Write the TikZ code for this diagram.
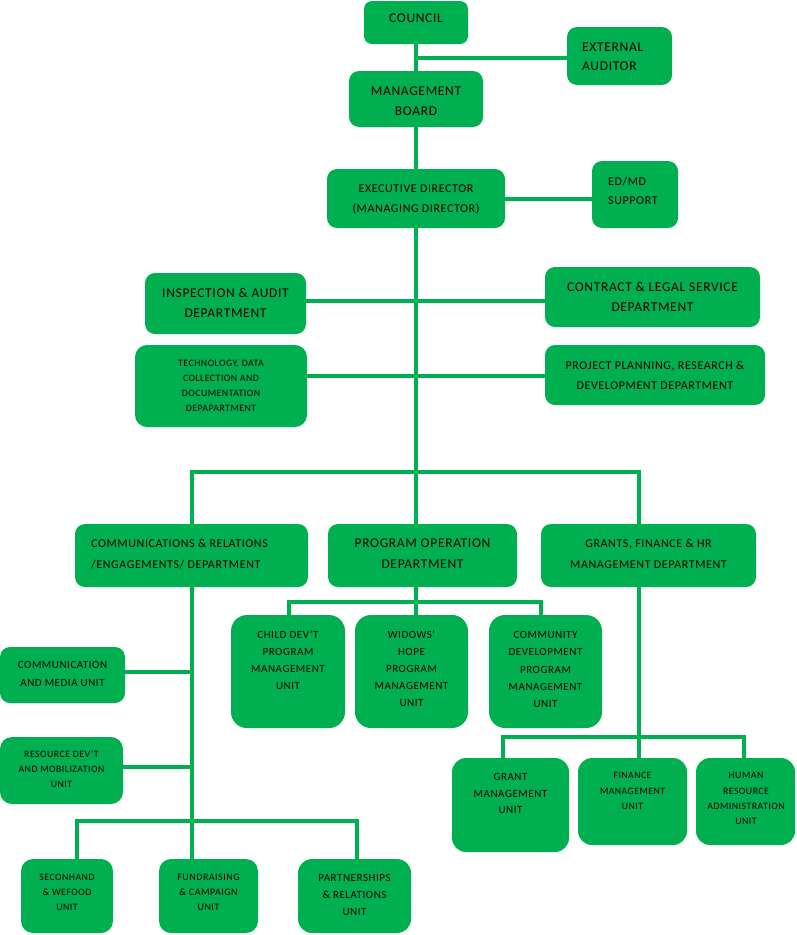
\documentclass[tikz,border=0pt]{standalone}
\usepackage{fontspec}
\setmainfont{Carlito}[LetterSpace=5.0]
\definecolor{ogreen}{HTML}{00B050}
\newcommand\fs[2]{\fontsize{#1}{#2}\selectfont}
\newcommand\obox[6][10pt]{\node[box,rounded corners=#1,minimum width={(#5-#3)*1pt},minimum height={(#6-#4)*1pt}] (#2) at ({(#3+#5)/2},{(#4+#6)/2}) {};}
\tikzset{
  box/.style={fill=ogreen, draw=none, inner sep=0pt, outer sep=0pt},
  txt/.style={align=center, inner sep=0pt, text=black, text depth=0pt},
  conn/.style={draw=ogreen, line width=4pt}
}
\begin{document}
\begin{tikzpicture}[x=1pt,y=-1pt]
\useasboundingbox (0,0) rectangle (797,935);
% boxes
\obox[8pt]{council}{364}{1}{468}{44}
\obox{aud}{567}{27}{672}{85}
\obox{mgmt}{349}{71}{483}{127}
\obox{exec}{327}{169}{505}{228}
\obox{edmd}{592}{161}{678}{228}
\obox{insp}{145}{273}{306}{334}
\obox{cont}{545}{267}{760}{327}
\obox[12pt]{tech}{135}{345}{307}{427}
\obox{proj}{545}{345}{765}{405}
\obox{comm}{75}{524}{308}{587}
\obox{prog}{328}{524}{517}{587}
\obox{grants}{541}{524}{756}{587}
\obox[16pt]{child}{231}{615}{345}{728}
\obox[16pt]{wid}{355}{615}{468}{728}
\obox[16pt]{comty}{489}{615}{602}{728}
\obox{cmed}{0}{647}{125}{703}
\obox[12pt]{res}{0}{737}{123}{804}
\obox[12pt]{sec}{21}{859}{113}{933}
\obox[12pt]{fund}{159}{859}{258}{933}
\obox[14pt]{part}{298}{859}{411}{933}
\obox[14pt]{gman}{452}{758}{569}{852}
\obox[14pt]{fin}{578}{758}{687}{845}
\obox[14pt]{hr}{696}{758}{795}{845}
% texts
\node[txt,font=\fs{13.5}{20}] (councilT) at (416,18) {COUNCIL};
\node[txt,align=left,anchor=west,font=\fs{13.5}{19}] (audT) at (582,56.5) {EXTERNAL\\AUDITOR};
\node[txt,font=\fs{13.5}{20.5}] (mgmtT) at (416,101) {MANAGEMENT\\BOARD};
\node[txt,font=\fs{12}{20}] (execT) at (416,199) {EXECUTIVE DIRECTOR\\(MANAGING DIRECTOR)};
\node[txt,align=left,anchor=west,font=\fs{12}{18.5}] (edmdT) at (608,191) {ED/MD\\SUPPORT};
\node[txt,font=\fs{13.5}{20}] (inspT) at (225.5,303) {INSPECTION \& AUDIT\\DEPARTMENT};
\node[txt,font=\fs{13.5}{20}] (contT) at (652.5,297) {CONTRACT \& LEGAL SERVICE\\DEPARTMENT};
\node[txt,font=\fs{9.8}{15}] (techT) at (221,385.5) {TECHNOLOGY, DATA\\COLLECTION AND\\DOCUMENTATION\\DEPAPARTMENT};
\node[txt,font=\fs{12}{20}] (projT) at (655,375) {PROJECT PLANNING, RESEARCH \&\\DEVELOPMENT DEPARTMENT};
\node[txt,align=left,anchor=west,font=\fs{12}{21}] (commT) at (91,553.5) {COMMUNICATIONS \& RELATIONS\\/ENGAGEMENTS/ DEPARTMENT};
\node[txt,font=\fs{13.5}{21}] (progT) at (422.5,553.5) {PROGRAM OPERATION\\DEPARTMENT};
\node[txt,font=\fs{12}{21}] (grantsT) at (648.5,553.5) {GRANTS, FINANCE \& HR\\MANAGEMENT DEPARTMENT};
\node[txt,font=\fs{11}{16.8}] (childT) at (288,660) {CHILD DEV'T\\PROGRAM\\MANAGEMENT\\UNIT};
\node[txt,font=\fs{11}{17}] (widT) at (411.5,669) {WIDOWS'\\HOPE\\PROGRAM\\MANAGEMENT\\UNIT};
\node[txt,font=\fs{11}{17.2}] (comtyT) at (545.5,669.5) {COMMUNITY\\DEVELOPMENT\\PROGRAM\\MANAGEMENT\\UNIT};
\node[txt,font=\fs{11}{17.7}] (cmedT) at (62.5,674) {COMMUNICATION\\AND MEDIA UNIT};
\node[txt,font=\fs{9.8}{15}] (resT) at (61.5,769) {RESOURCE DEV'T\\AND MOBILIZATION\\UNIT};
\node[txt,font=\fs{9.8}{15}] (secT) at (67,892) {SECONHAND\\\& WEFOOD\\UNIT};
\node[txt,font=\fs{10}{15}] (fundT) at (208.5,892) {FUNDRAISING\\\& CAMPAIGN\\UNIT};
\node[txt,font=\fs{11}{17.3}] (partT) at (354.5,895) {PARTNERSHIPS\\\& RELATIONS\\UNIT};
\node[txt,font=\fs{11}{16.7}] (gmanT) at (510.5,793.5) {GRANT\\MANAGEMENT\\UNIT};
\node[txt,font=\fs{9.7}{15.5}] (finT) at (632.5,791) {FINANCE\\MANAGEMENT\\UNIT};
\node[txt,font=\fs{9.8}{15.3}] (hrT) at (746,798.7) {HUMAN\\RESOURCE\\ADMINISTRATION\\UNIT};
% junction coordinates
\coordinate (ja) at (416,58);
\coordinate (h1) at (416,301);
\coordinate (h2) at (416,376);
\coordinate (t0) at (416,472);
\coordinate (tL) at (192,472);
\coordinate (tR) at (639,472);
\coordinate (c1) at (192,672);
\coordinate (c2) at (192,767);
\coordinate (cB) at (192,821);
\coordinate (bL) at (77,821);
\coordinate (bR) at (357,821);
\coordinate (pB) at (416,602);
\coordinate (pL) at (289,602);
\coordinate (pR) at (541,602);
\coordinate (gB) at (639,737);
\coordinate (gL) at (503,737);
\coordinate (gR) at (744,737);
% connectors
\draw[conn] (council) -- (mgmt);
\draw[conn] (ja) -- (ja -| aud.west);
\draw[conn] (mgmt) -- (exec);
\draw[conn] (exec.east) -- (exec.east -| edmd.west);
\draw[conn] (exec.south) -- (t0);
\draw[conn] (h1 -| insp.east) -- (h1 -| cont.west);
\draw[conn] (h2 -| tech.east) -- (h2 -| proj.west);
\draw[conn] (tL |- comm.north) -- (tL) -- (tR) -- (tR |- grants.north);
\draw[conn] (t0) -- (t0 |- prog.north);
\draw[conn] (cB |- comm.south) -- (cB);
\draw[conn] (c1) -- (c1 -| cmed.east);
\draw[conn] (c2) -- (c2 -| res.east);
\draw[conn] (bL |- sec.north) -- (bL) -- (bR) -- (bR |- part.north);
\draw[conn] (cB) -- (cB |- fund.north);
\draw[conn] (pB |- prog.south) -- (pB);
\draw[conn] (pL |- child.north) -- (pL) -- (pR) -- (pR |- comty.north);
\draw[conn] (pB) -- (pB |- wid.north);
\draw[conn] (gB |- grants.south) -- (gB);
\draw[conn] (gL |- gman.north) -- (gL) -- (gR) -- (gR |- hr.north);
\draw[conn] (gB) -- (gB |- fin.north);
\end{tikzpicture}
\end{document}
